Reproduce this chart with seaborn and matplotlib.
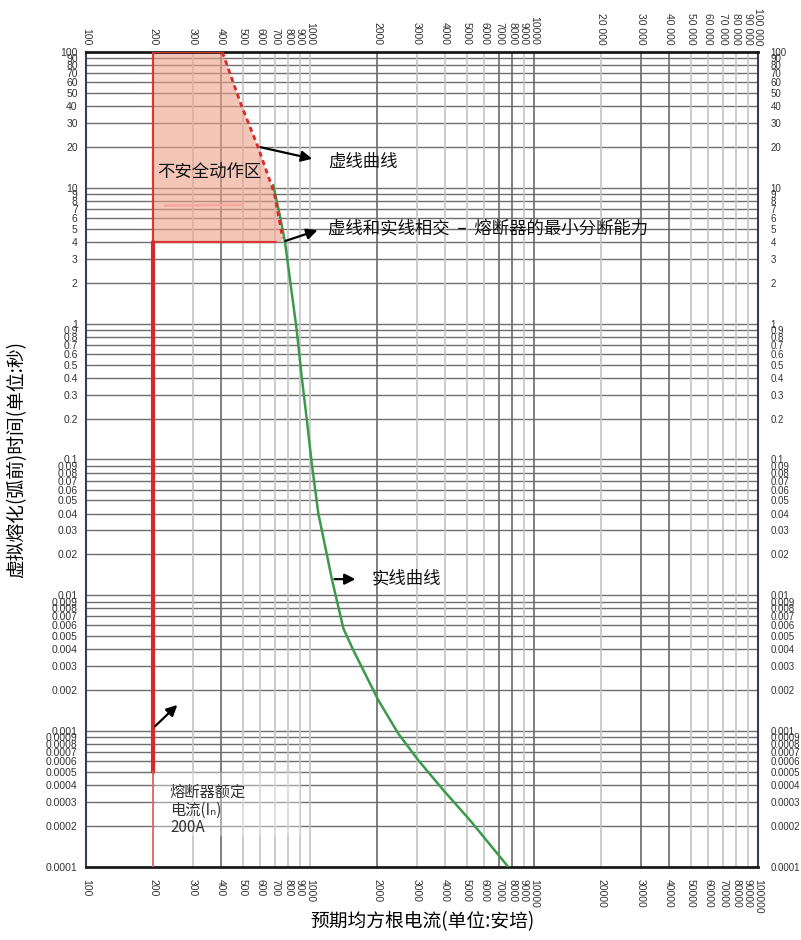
import numpy as np
import pandas as pd
import matplotlib
matplotlib.use("Agg")
import matplotlib.pyplot as plt
import seaborn as sns
from matplotlib.patches import Rectangle

# data
x_ticks = [100, 200, 300, 400, 500, 600, 700, 800, 900,
           1000, 2000, 3000, 4000, 5000, 6000, 7000, 8000, 9000,
           10000, 20000, 30000, 40000, 50000, 60000, 70000, 80000, 90000, 100000]
x_labels_bottom = [str(v) for v in x_ticks]
x_labels_top = [str(v) if v <= 10000 else f"{v // 1000} 000" for v in x_ticks]
x_dark = [400, 2000, 7000, 8000, 10000, 30000, 40000]

y_mult = [1, 2, 3, 4, 5, 6, 7, 8, 9]
y_decades = [0.0001, 0.001, 0.01, 0.1, 1, 10]
y_ticks = [round(m * d, 6) for d in y_decades for m in y_mult] + [100]
y_labels = [("%.4f" % v).rstrip("0").rstrip(".") if v < 1 else f"{v:g}" for v in y_ticks]

# dashed (unsafe) curve
dash_current = [406, 493, 585, 693, 755]
dash_time = [100, 40.8, 20.1, 9.1, 4.25]

# solid melting curve
green_current = [685, 730, 773, 818, 872, 918, 966, 1018, 1089, 1190, 1250, 1409,
                 1560, 2018, 2477, 3045, 3937, 5176, 7675]
green_time = [10.5, 6.5, 4.0, 1.98, 0.9, 0.406, 0.201, 0.0935, 0.0401, 0.0198, 0.0133, 0.0057,
              0.00395, 0.00169, 0.00096, 0.00061, 0.000368, 0.000221, 0.0001]

rated_current = 200
zone_top = 100
zone_bottom = 4
thick_end = 0.0005

sns.set_theme(style="white")
plt.rcParams['font.family'] = ['Noto Sans CJK SC', 'DejaVu Sans']

fig = plt.figure(figsize=(8.01, 9.40), dpi=100)
ax = fig.add_axes([0.1074, 0.0777, 0.8389, 0.867])
ax.set_xscale('log')
ax.set_yscale('log')
ax.set_xlim(100, 100000)
ax.set_ylim(0.0001, 100)

# grid
for v in y_ticks:
    ax.axhline(v, color='#6e6e6e', lw=1.0, zorder=0.5)
for v in x_ticks:
    c = '#6a6a6a' if v in x_dark else '#c4c4c4'
    ax.axvline(v, color=c, lw=1.2, zorder=0.5)

# unsafe zone
zone_x = [rated_current, rated_current] + dash_current + [rated_current]
zone_y = [zone_bottom, zone_top] + dash_time[:-1] + [zone_bottom, zone_bottom]
ax.fill(zone_x, zone_y, color='#eba08a', alpha=0.6, lw=0, zorder=1)
ax.plot([rated_current, rated_current, dash_current[0]], [zone_bottom, zone_top, zone_top],
        color='#d63a32', lw=1.6, zorder=3)
ax.plot([rated_current, 706], [zone_bottom, zone_bottom], color='#d63a32', lw=1.6, zorder=3)
ax.plot([225, 497], [7.4, 7.5], color='#f4a8a0', lw=2, zorder=2)

# rated current line
ax.plot([rated_current, rated_current], [zone_bottom, thick_end], color='#d62b2b', lw=3, zorder=3)
ax.plot([rated_current, rated_current], [thick_end, 0.0001], color='#e06060', lw=1.2, zorder=3)

# curves
green = pd.DataFrame({'current': green_current, 'time': green_time})
dash = pd.DataFrame({'current': dash_current, 'time': dash_time})
sns.lineplot(data=green, x='current', y='time', color='#3d9a4c', lw=1.8,
             estimator=None, sort=False, ax=ax, zorder=4)
sns.lineplot(data=dash, x='current', y='time', color='#d62b2b', lw=2.0,
             linestyle=(0, (1.8, 1.4)), estimator=None, sort=False, ax=ax, zorder=5)

# label box
ax.add_patch(Rectangle((203, 0.00017), 700, 0.00033, facecolor='white', alpha=0.35,
                       edgecolor='none', zorder=2))

# annotations
arrow = dict(arrowstyle='-|>', color='black', lw=1.6, mutation_scale=16)
ax.annotate('', xy=(1052, 16.2), xytext=(585, 20.1), arrowprops=arrow, zorder=6)
ax.annotate('', xy=(1110, 4.94), xytext=(755, 4.0), arrowprops=arrow, zorder=6)
ax.annotate('', xy=(1643, 0.01315), xytext=(1250, 0.01315), arrowprops=arrow, zorder=6)
ax.annotate('', xy=(261, 0.00161), xytext=(199, 0.00105), arrowprops=arrow, zorder=6)

txt = dict(fontsize=12.5, color='#111111', va='center', ha='left', zorder=7)
ax.text(207, 13.1, '不安全动作区', **txt)
ax.text(1202, 15.5, '虚线曲线', **txt)
ax.text(1202, 5.06, '虚线和实线相交  –  熔断器的最小分断能力', **txt)
ax.text(1892, 0.0134, '实线曲线', **txt)
ax.text(237, 0.00041, '熔断器额定\n电流(Iₙ)\n200A', fontsize=11, color='#333333',
        va='top', ha='left', linespacing=1.05, zorder=7)

# ticks
tick_font = dict(family='Liberation Sans', size=7.5, color='#333333')
ax.minorticks_off()
ax.set_xticks(x_ticks, x_labels_bottom, rotation=270, **tick_font)
ax.set_yticks(y_ticks, y_labels, **tick_font)
ax.tick_params(axis='x', length=0, pad=9)
ax.tick_params(axis='y', length=0, pad=6)

top = ax.secondary_xaxis('top')
top.set_xticks(x_ticks, x_labels_top, rotation=270, **tick_font)
top.tick_params(length=0, pad=5)
top.minorticks_off()
right = ax.secondary_yaxis('right')
right.set_yticks(y_ticks, y_labels, family='Liberation Sans', size=7, color='#333333')
right.tick_params(length=0, pad=9)
right.minorticks_off()
for s in top.spines.values():
    s.set_visible(False)
for s in right.spines.values():
    s.set_visible(False)

for side in ['left', 'right']:
    ax.spines[side].set_color('#2f3f5f')
    ax.spines[side].set_linewidth(1.5)
for side in ['top', 'bottom']:
    ax.spines[side].set_color('#1a1a1a')
    ax.spines[side].set_linewidth(2)

ax.set_xlabel('预期均方根电流(单位:安培)', fontsize=13.5, color='black')
ax.set_ylabel('虚拟熔化(弧前)时间(单位:秒)', fontsize=13.5, color='black')
ax.xaxis.set_label_coords(0.5, -0.054)
ax.yaxis.set_label_coords(-0.087, 0.5)

fig.savefig('out.png', dpi=100)
